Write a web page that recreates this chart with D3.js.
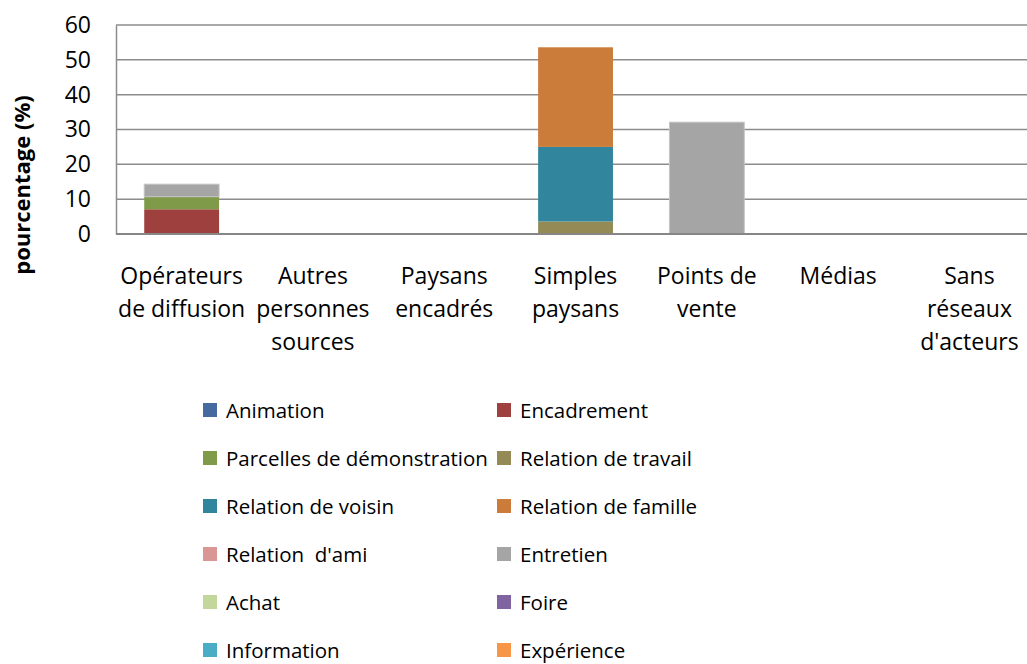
<!DOCTYPE html>
<html>
<head>
<meta charset="utf-8">
<script src="https://cdn.jsdelivr.net/npm/d3@7"></script>
<style>
  body { margin: 0; background: #fff; }
  text { font-family: "Open Sans", sans-serif; fill: #000; white-space: pre; }
</style>
</head>
<body>
<div id="chart"></div>
<script>
// categories (x axis), each label split into its lines
var categories = ["Opérateurs de diffusion", "Autres personnes sources", "Paysans encadrés",
                  "Simples paysans", "Points de vente", "Médias", "Sans réseaux d'acteurs"];
var categoryLines = [["Opérateurs", "de diffusion"], ["Autres", "personnes", "sources"], ["Paysans", "encadrés"],
                     ["Simples", "paysans"], ["Points de", "vente"], ["Médias"], ["Sans", "réseaux", "d'acteurs"]];

// series names, in stacking order
var seriesNames = ["Animation", "Encadrement", "Parcelles de démonstration", "Relation de travail",
                   "Relation de voisin", "Relation de famille", "Relation  d'ami", "Entretien",
                   "Achat", "Foire", "Information", "Expérience"];

var seriesColors = ["#46699F", "#9E413E", "#7F9A48", "#938A55", "#31859C", "#CB7B3A",
                    "#D99694", "#A5A5A5", "#C3D69B", "#8064A2", "#4BACC6", "#F79646"];

// values per series (%), one per category
var animation   = [0, 0, 0, 0, 0, 0, 0];
var encadrement = [7.1, 0, 0, 0, 0, 0, 0];
var parcelles   = [3.6, 0, 0, 0, 0, 0, 0];
var travail     = [0, 0, 0, 3.6, 0, 0, 0];
var voisin      = [0, 0, 0, 21.4, 0, 0, 0];
var famille     = [0, 0, 0, 28.6, 0, 0, 0];
var ami         = [0, 0, 0, 0, 0, 0, 0];
var entretien   = [3.6, 0, 0, 0, 32.1, 0, 0];
var achat       = [0, 0, 0, 0, 0, 0, 0];
var foire       = [0, 0, 0, 0, 0, 0, 0];
var information = [0, 0, 0, 0, 0, 0, 0];
var experience  = [0, 0, 0, 0, 0, 0, 0];

var yTicks = [0, 10, 20, 30, 40, 50, 60];

var seriesValues = [animation, encadrement, parcelles, travail, voisin, famille,
                    ami, entretien, achat, foire, information, experience];

var svgWidth = 1027;
var svgHeight = 664;

var svg = d3.select("#chart")
    .append("svg")
    .attr("width", svgWidth)
    .attr("height", svgHeight);

//scales
var plotLeft = 116, plotTop = 25, plotBottom = 234;
var bandW = 131.3;

var xScale = d3.scaleBand()
    .domain(categories)
    .range([plotLeft, plotLeft + bandW * categories.length])
    .paddingInner(0.43)
    .paddingOuter(0.215);

var yScale = d3.scaleLinear()
    .domain([0, 60])
    .range([plotBottom, plotTop]);

//gridlines
svg.append("g")
    .selectAll("line")
    .data(yTicks.slice(1))
    .enter()
    .append("line")
    .attr("x1", plotLeft)
    .attr("x2", svgWidth)
    .attr("y1", d => yScale(d))
    .attr("y2", d => yScale(d))
    .attr("stroke", "#8c8c8c")
    .attr("stroke-width", 1.5);

//stack the data
var table = categories.map(function(c, i) {
    var row = { cat: c };
    seriesNames.forEach(function(s, j) { row[s] = seriesValues[j][i]; });
    return row;
});
var stacked = d3.stack().keys(seriesNames)(table);

var layers = svg.append("g")
    .selectAll("g")
    .data(stacked)
    .enter()
    .append("g")
    .attr("fill", (d, i) => seriesColors[i]);

layers.selectAll("rect")
    .data(d => d.filter(p => p[1] - p[0] > 0))
    .enter()
    .append("rect")
    .attr("x", d => xScale(d.data.cat))
    .attr("width", xScale.bandwidth())
    .attr("y", d => yScale(d[1]))
    .attr("height", d => yScale(d[0]) - yScale(d[1]));

// light outline on the grey (Entretien) bars
layers.filter(d => d.key === "Entretien").selectAll("rect")
    .attr("stroke", "#c4c4c4")
    .attr("stroke-width", 1);

//y axis
var yAxis = svg.append("g")
    .attr("transform", `translate(${plotLeft},0)`)
    .call(d3.axisLeft(yScale).tickValues(yTicks).tickSize(0).tickPadding(25));
yAxis.select(".domain").attr("stroke", "#8c8c8c").attr("stroke-width", 1.5);
yAxis.selectAll("text").style("font-size", "23px").style("font-family", "'Open Sans', sans-serif");

//x axis line
svg.append("line")
    .attr("x1", plotLeft)
    .attr("x2", svgWidth)
    .attr("y1", plotBottom)
    .attr("y2", plotBottom)
    .attr("stroke", "#868686")
    .attr("stroke-width", 2);

//category labels
var catLabels = svg.append("g")
    .selectAll("text")
    .data(categories)
    .enter()
    .append("text")
    .attr("text-anchor", "middle")
    .attr("x", d => xScale(d) + xScale.bandwidth() / 2)
    .attr("y", 284)
    .style("font-size", "23px");

catLabels.selectAll("tspan")
    .data((d, i) => categoryLines[i])
    .enter()
    .append("tspan")
    .attr("x", function() { return d3.select(this.parentNode).attr("x"); })
    .attr("dy", (d, i) => i === 0 ? 0 : 33)
    .text(d => d);

//y axis title
svg.append("text")
    .attr("transform", "translate(30,185) rotate(-90)")
    .attr("text-anchor", "middle")
    .style("font-size", "22px")
    .style("font-weight", "bold")
    .text("pourcentage (%)");

//legend
var legend = svg.append("g")
    .selectAll("g")
    .data(seriesNames)
    .enter()
    .append("g")
    .attr("transform", (d, i) => `translate(${i % 2 === 0 ? 203 : 497}, ${410 + Math.floor(i / 2) * 48})`);

legend.append("rect")
    .attr("x", 0)
    .attr("y", -7)
    .attr("width", 14)
    .attr("height", 14)
    .attr("fill", (d, i) => seriesColors[i]);

legend.append("text")
    .attr("x", 23)
    .attr("y", 8)
    .style("font-size", "20.5px")
    .text(d => d);
</script>
</body>
</html>
